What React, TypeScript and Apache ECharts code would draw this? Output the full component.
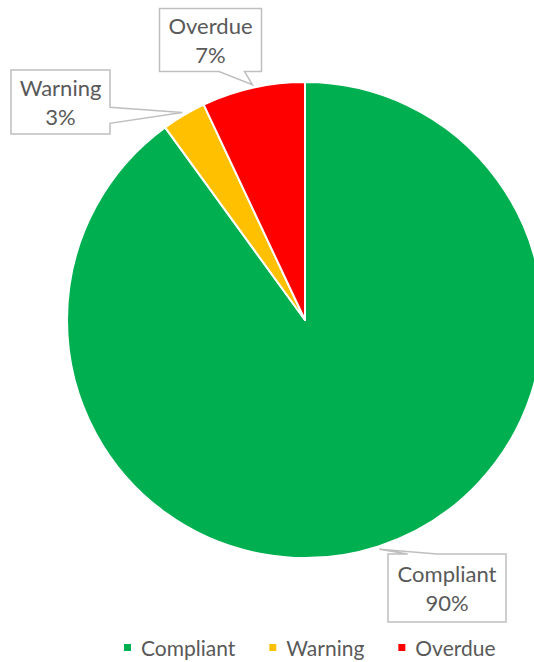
import { useEffect, useRef } from 'react';
import * as echarts from 'echarts';

// Compliance status shares (percent)
const categories = ['Compliant', 'Warning', 'Overdue'];
const shares = [90, 3, 7];
const sliceColors = ['#00B050', '#FFC000', '#FF0000'];

// Callout box placement per category: centre x/y, width, height (px) and the side carrying the wedge
const calloutBoxes = [
  { cx: 447, cy: 588, w: 118, h: 68, side: 'top' },
  { cx: 60.5, cy: 102, w: 99, h: 64, side: 'right' },
  { cx: 210.5, cy: 40, w: 102, h: 63, side: 'bottom' },
];

const PIE_CENTER: [number, number] = [305, 320];
const PIE_RADIUS = 238;
const TIP_GAP = 3;
const FONT = 'Lato, "Liberation Sans", sans-serif';
const TEXT_GRAY = '#595959';
const BOX_GRAY = '#BFBFBF';

// Tip of each callout wedge: slice mid-angle just outside the rim
function wedgeTips(values: number[]) {
  const total = values.reduce((a, b) => a + b, 0);
  let cum = 0;
  return values.map((v) => {
    const mid = ((cum + v / 2) / total) * Math.PI * 2;
    cum += v;
    const r = PIE_RADIUS + TIP_GAP;
    return [PIE_CENTER[0] + r * Math.sin(mid), PIE_CENTER[1] - r * Math.cos(mid)];
  });
}

// Rectangular callout outline with a wedge pointing at the tip
function calloutPoints(
  box: { cx: number; cy: number; w: number; h: number; side: string },
  tip: number[]
) {
  const l = box.cx - box.w / 2;
  const r = box.cx + box.w / 2;
  const t = box.cy - box.h / 2;
  const b = box.cy + box.h / 2;
  const dx = tip[0] - box.cx;
  const dy = tip[1] - box.cy;
  const side = box.side;
  const xa = dx > 0 ? l + (box.w * 7) / 12 : l + (box.w * 2) / 12;
  const xb = dx > 0 ? l + (box.w * 10) / 12 : l + (box.w * 5) / 12;
  const ya = dy > 0 ? t + (box.h * 7) / 12 : t + (box.h * 2) / 12;
  const yb = dy > 0 ? t + (box.h * 10) / 12 : t + (box.h * 5) / 12;
  const pts: number[][] = [[l, t]];
  if (side === 'top') pts.push([xa, t], tip, [xb, t]);
  pts.push([r, t]);
  if (side === 'right') pts.push([r, ya], tip, [r, yb]);
  pts.push([r, b]);
  if (side === 'bottom') pts.push([xb, b], tip, [xa, b]);
  pts.push([l, b]);
  if (side === 'left') pts.push([l, yb], tip, [l, ya]);
  return pts;
}

export default function App() {
  const ref = useRef<HTMLDivElement>(null);

  useEffect(() => {
    if (!ref.current) return;
    const chart = echarts.init(ref.current, null, { renderer: 'svg' });
    const tips = wedgeTips(shares);

    chart.setOption({
      animation: false,
      backgroundColor: '#ffffff',
      textStyle: { fontFamily: FONT },
      legend: {
        data: categories,
        left: 117,
        top: 632,
        icon: 'rect',
        itemWidth: 9,
        itemHeight: 9,
        itemGap: 32,
        textStyle: {
          color: TEXT_GRAY,
          fontSize: 21,
          fontFamily: FONT,
          padding: [0, 0, 0, 4],
        },
      },
      graphic: calloutBoxes.map((box, i) => ({
        type: 'polygon',
        z: 0,
        shape: { points: calloutPoints(box, tips[i]) },
        style: { fill: '#ffffff', stroke: BOX_GRAY, lineWidth: 1.5 },
        silent: true,
      })),
      series: [
        {
          type: 'pie',
          center: PIE_CENTER,
          radius: PIE_RADIUS,
          startAngle: 90,
          clockwise: true,
          itemStyle: { borderColor: '#ffffff', borderWidth: 2 },
          label: {
            show: true,
            position: 'outside',
            formatter: '{b}\n{d}%',
            color: TEXT_GRAY,
            fontSize: 22,
            lineHeight: 29,
            fontFamily: FONT,
            align: 'center',
          },
          labelLine: { show: false },
          labelLayout: (params: any) => {
            const box = calloutBoxes[params.dataIndex];
            return { x: box.cx, y: box.cy, align: 'center', verticalAlign: 'middle' };
          },
          data: categories.map((name, i) => ({
            name,
            value: shares[i],
            itemStyle: { color: sliceColors[i] },
          })),
        },
      ],
    });

    return () => chart.dispose();
  }, []);

  return (
    <div
      ref={ref}
      style={{ position: 'absolute', left: 0, top: 0, width: 534, height: 662 }}
    />
  );
}
